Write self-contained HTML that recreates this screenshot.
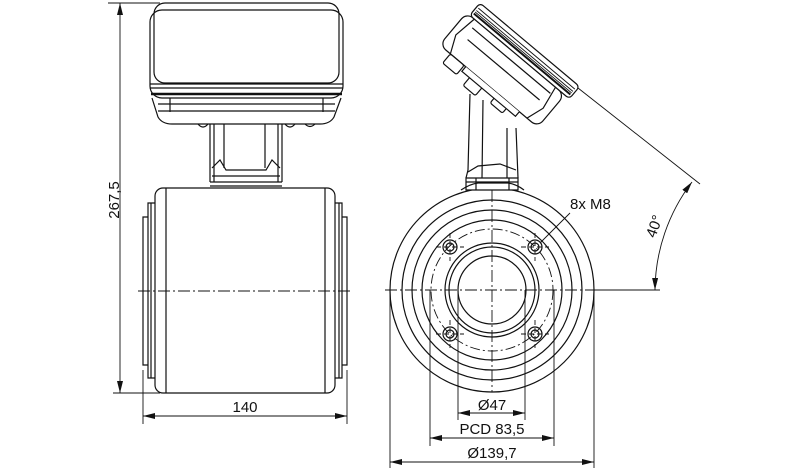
<!DOCTYPE html>
<html><head><meta charset="utf-8"><style>
html,body{margin:0;padding:0;background:#fff}
svg{display:block}
text{font-family:"Liberation Sans",sans-serif;fill:#111}
</style></head><body>
<svg width="800" height="470" viewBox="0 0 800 470" xmlns="http://www.w3.org/2000/svg">
<defs>
<marker id="a" viewBox="0 0 12 6" refX="12" refY="3" markerWidth="12" markerHeight="6" markerUnits="userSpaceOnUse" orient="auto-start-reverse"><path d="M0,0L12,3L0,6z" fill="#111"/></marker>
</defs>
<g fill="none" stroke="#111" stroke-width="1.2">
<rect x="154" y="3" width="185" height="80" rx="11" fill="#fff"/>
<rect x="150" y="10" width="193" height="88" rx="12"/>
<path d="M150,84 L343,84 M150,88 L343,88" />
<path d="M151,94 L342,94" stroke-width="2.5"/>
<path d="M152,98 L158,117 Q162,124 172,124 L320,124 Q330,124 334,117 L341,98"/>
<path d="M158,104 L335,104 M158,111 L335,111 M170,98 L170,112 M323,98 L323,112"/>
<path d="M198,124 q5,6 10,0 M285,124 q5,6 10,0 M305,124 q5,5 10,0"/>
<path d="M210,124 L210,182 M282,124 L282,182 M214,124 L214,182 M278,124 L278,182 M224,124 L224,168 M265,124 L265,168"/>
<path d="M212,168 L220,160 L226,170 L266,170 L272,160 L280,168 M210,182 L282,182 M210,186 L282,186 M212,176 L280,176"/>
<path d="M200,192 Q205,187 215,190 L277,190 Q287,187 292,192 Q285,196 272,195 L220,195 Q207,196 200,192"/>
<rect x="155" y="188" width="180" height="205" rx="8" fill="#fff"/>
<path d="M166,188 L166,393 M325,188 L325,393"/>
<path d="M155,203 L148,203 L148,378 L155,378 M148,217 L143,217 L143,365 L148,365 M151,203 L151,378"/>
<path d="M335,203 L342,203 L342,378 L335,378 M342,217 L347,217 L347,365 L342,365 M339,203 L339,378"/>
</g>
<g fill="none" stroke="#111" stroke-width="0.9">
<path d="M138,291 L352,291" stroke-dasharray="12,3,2,3"/>
<path d="M108,3 L160,3 M113,393 L160,393 M143,370 L143,424 M347,370 L347,424"/>
<path d="M120,3 L120,393" marker-start="url(#a)" marker-end="url(#a)"/>
<path d="M143,416 L347,416" marker-start="url(#a)" marker-end="url(#a)"/>
</g>
<text x="245" y="412" font-size="15" text-anchor="middle">140</text>
<text transform="translate(119,200) rotate(-90)" font-size="15" text-anchor="middle">267,5</text>

<g fill="none" stroke="#111" stroke-width="1.2">
<circle cx="492" cy="290" r="102" fill="#fff"/>
<circle cx="492" cy="290" r="90"/>
<circle cx="492" cy="290" r="80"/>
<circle cx="492" cy="290" r="70"/>
<circle cx="492" cy="290" r="47"/>
<circle cx="492" cy="290" r="43"/>
<circle cx="492" cy="290" r="34"/>
<path d="M461,190 Q470,184 478,183 L508,183 Q516,184 524,190" fill="#fff"/>
<path d="M466,178 L518,178 L518,190 L466,190 Z M466,182 L518,182 M476,178 L476,190 M509,178 L509,190"/>
<path d="M470,94 L468,170 L466,178 M483,100 L482,178 M507,128 L507,178 M516,128 L518,178"/>
<path d="M468,172 L478,166 L500,164 L516,170"/>
<g transform="translate(480,3) rotate(40)" fill="#fff">
<rect x="-4" y="16" width="128" height="42" rx="8"/>
<path d="M6,16 L2,40 L10,58 M112,16 L116,40 L110,58 M10,24 L112,24 M14,36 L108,36"/>
<rect x="0" y="0" width="130" height="16" rx="4"/>
<path d="M2,5 L128,5 M2,8 L128,8 M2,10 L128,10" stroke-width="0.9"/>
<path d="M2,12 L128,12" stroke-width="2"/>
<rect x="10" y="58" width="18" height="12" rx="2"/>
<rect x="40" y="58" width="16" height="16" rx="2"/>
<rect x="72" y="58" width="16" height="12" rx="2"/>
<path d="M30,58 L30,64 L100,64 L100,58"/>
</g>
<g>
<circle cx="450" cy="247" r="7"/><circle cx="450" cy="247" r="4"/>
<circle cx="535" cy="247" r="7"/><circle cx="535" cy="247" r="4"/>
<circle cx="450" cy="334" r="7"/><circle cx="450" cy="334" r="4"/>
<circle cx="535" cy="334" r="7"/><circle cx="535" cy="334" r="4"/>
</g>
</g>
<g fill="none" stroke="#111" stroke-width="0.9">
<circle cx="492" cy="290" r="61" stroke-dasharray="10,3,2,3"/>
<path d="M385,290 L595,290 M492,190 L492,392" stroke-dasharray="12,3,2,3"/>
<path d="M595,290 L660,290"/>
<path d="M436,247 L464,247 M450,233 L450,261 M521,247 L549,247 M535,233 L535,261 M436,334 L464,334 M450,320 L450,348 M521,334 L549,334 M535,320 L535,348" stroke-dasharray="5,3"/>
<path d="M540,243 L570,213"/>
<path d="M458,290 L458,420 M525,290 L525,420 M430,290 L430,446 M554,290 L554,446 M390,290 L390,468 M594,290 L594,468"/>
<path d="M458,413 L525,413" marker-start="url(#a)" marker-end="url(#a)"/>
<path d="M430,438 L554,438" marker-start="url(#a)" marker-end="url(#a)"/>
<path d="M390,462 L594,462" marker-start="url(#a)" marker-end="url(#a)"/>
<path d="M578,88 L700,184"/>
<path d="M692,182 A181,181 0 0 0 655,290" marker-start="url(#a)" marker-end="url(#a)"/>
</g>
<text x="570" y="209" font-size="15">8x M8</text>
<text x="492" y="410" font-size="15" text-anchor="middle">Ø47</text>
<text x="492" y="434" font-size="15" text-anchor="middle">PCD 83,5</text>
<text x="492" y="458" font-size="15" text-anchor="middle">Ø139,7</text>
<text transform="translate(659,228) rotate(-70)" font-size="15" text-anchor="middle">40°</text>
</svg>
</body></html>
